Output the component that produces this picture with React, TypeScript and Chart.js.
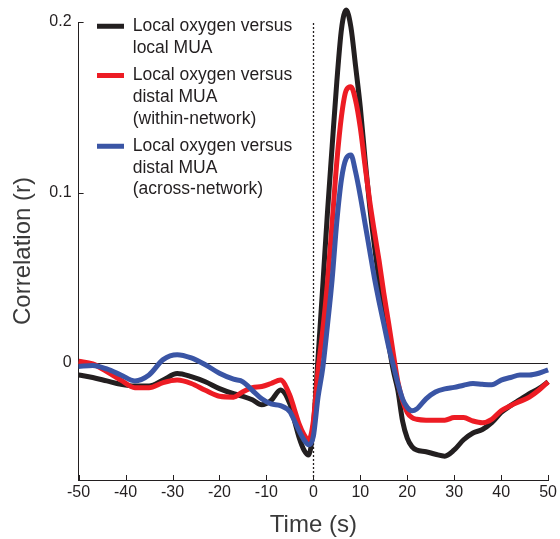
import React, { useEffect, useRef } from 'react';
import { Chart, registerables } from 'chart.js';

Chart.register(...registerables);

// ---- data ----
const TIME = [-50, -47, -44, -41, -38, -35, -32, -29, -26, -23, -20, -17, -15, -13, -11, -9, -7, -5, -4, -3, -2, -1, 0, 1, 2, 3, 4, 5, 6, 7, 8, 9, 10, 11, 12, 13, 14, 15, 16, 17, 18, 19, 20, 21, 22, 24, 26, 28, 30, 32, 34, 36, 38, 40, 42, 44, 46, 48, 50];

const LOCAL_MUA = [-0.007, -0.0085, -0.0105, -0.0125, -0.0135, -0.0135, -0.01, -0.0062, -0.008, -0.011, -0.015, -0.018, -0.0195, -0.0215, -0.0245, -0.022, -0.0158, -0.024, -0.034, -0.044, -0.051, -0.054, -0.037, 0.003, 0.045, 0.088, 0.127, 0.165, 0.196, 0.207, 0.197, 0.174, 0.15, 0.12, 0.092, 0.069, 0.048, 0.03, 0.012, -0.004, -0.016, -0.034, -0.044, -0.049, -0.051, -0.052, -0.0535, -0.0546, -0.051, -0.045, -0.041, -0.039, -0.035, -0.029, -0.025, -0.0215, -0.018, -0.015, -0.011];

const DISTAL_WITHIN = [0.001, -0.0005, -0.005, -0.01, -0.0145, -0.0145, -0.0115, -0.01, -0.012, -0.016, -0.0195, -0.02, -0.0168, -0.0145, -0.0138, -0.012, -0.01, -0.019, -0.0275, -0.036, -0.042, -0.045, -0.034, -0.004, 0.019, 0.047, 0.082, 0.118, 0.145, 0.16, 0.162, 0.154, 0.138, 0.116, 0.095, 0.077, 0.06, 0.041, 0.024, 0.006, -0.011, -0.022, -0.029, -0.032, -0.033, -0.0335, -0.0335, -0.0335, -0.032, -0.032, -0.034, -0.035, -0.033, -0.028, -0.025, -0.0225, -0.02, -0.016, -0.011];

const DISTAL_ACROSS = [-0.002, -0.0015, -0.0035, -0.007, -0.0105, -0.007, 0.002, 0.0049, 0.003, -0.001, -0.006, -0.0095, -0.011, -0.016, -0.021, -0.024, -0.025, -0.0286, -0.034, -0.04, -0.045, -0.048, -0.043, -0.02, -0.003, 0.022, 0.049, 0.083, 0.108, 0.12, 0.122, 0.112, 0.098, 0.082, 0.066, 0.05, 0.036, 0.023, 0.01, -0.001, -0.012, -0.021, -0.026, -0.028, -0.027, -0.021, -0.017, -0.0152, -0.0143, -0.013, -0.012, -0.0125, -0.0128, -0.01, -0.0085, -0.007, -0.007, -0.006, -0.004];

const SERIES_LABELS = [
  ['Local oxygen versus', 'local MUA'],
  ['Local oxygen versus', 'distal MUA', '(within-network)'],
  ['Local oxygen versus', 'distal MUA', '(across-network)'],
];
const SERIES_VALUES = [LOCAL_MUA, DISTAL_WITHIN, DISTAL_ACROSS];
const COLORS = ['#231f20', '#ed1c24', '#3a55a5'];

const X_TICKS = [-50, -40, -30, -20, -10, 0, 10, 20, 30, 40, 50];
const Y_TICKS = [0, 0.1, 0.2];
const X_TITLE = 'Time (s)';
const Y_TITLE = 'Correlation (r)';

const FONT = "'Liberation Sans', Arial, Helvetica, sans-serif";
const INK = '#231f20';

const decorPlugin = {
  id: 'decor',
  afterLayout(chart: any) {
    const lg = chart.legend;
    if (lg) {
      lg.left = 91;
      lg.top = 11.5;
      lg.bottom = chart.chartArea.bottom;
    }
  },
  beforeDatasetsDraw(chart: any) {
    const { ctx, chartArea, scales } = chart;
    const x = scales.x;
    const y = scales.y;
    ctx.save();
    ctx.strokeStyle = INK;
    ctx.lineWidth = 1;
    // zero line
    const y0 = Math.round(y.getPixelForValue(0)) + 0.5;
    ctx.beginPath();
    ctx.moveTo(chartArea.left, y0);
    ctx.lineTo(chartArea.right, y0);
    ctx.stroke();
    // dotted line at t = 0
    const x0 = Math.round(x.getPixelForValue(0)) + 0.5;
    ctx.setLineDash([2, 2]);
    ctx.lineWidth = 1.3;
    ctx.beginPath();
    ctx.moveTo(x0, chartArea.top + 1);
    ctx.lineTo(x0, chartArea.bottom);
    ctx.stroke();
    ctx.setLineDash([]);
    ctx.lineWidth = 1;
    // inward tick marks
    for (const t of x.ticks) {
      const px = Math.round(x.getPixelForValue(t.value)) + 0.5;
      ctx.beginPath();
      ctx.moveTo(px, chartArea.bottom);
      ctx.lineTo(px, chartArea.bottom - 5);
      ctx.stroke();
    }
    for (const t of y.ticks) {
      const py = Math.round(y.getPixelForValue(t.value)) + 0.5;
      ctx.beginPath();
      ctx.moveTo(chartArea.left, py);
      ctx.lineTo(chartArea.left + 5, py);
      ctx.stroke();
    }
    ctx.restore();
  },
};

export default function App() {
  const ref = useRef<HTMLCanvasElement | null>(null);

  useEffect(() => {
    if (!ref.current) return;
    const datasets = SERIES_VALUES.map((vals, i) => ({
      label: SERIES_LABELS[i].join(' '),
      data: TIME.map((t, k) => ({ x: t, y: vals[k] })),
      borderColor: COLORS[i],
      backgroundColor: COLORS[i],
      borderWidth: 5,
      pointRadius: 0,
      cubicInterpolationMode: 'monotone' as const,
      tension: 0.4,
      clip: false as any,
      order: 3 - i,
    }));

    const chart = new Chart(ref.current, {
      type: 'line',
      data: { datasets },
      plugins: [decorPlugin],
      options: {
        animation: false,
        responsive: false,
        devicePixelRatio: 1,
        layout: { padding: { left: 0, top: 22, right: 11, bottom: 0 } },
        plugins: {
          tooltip: { enabled: false },
          legend: {
            position: 'chartArea' as any,
            align: 'start',
            labels: {
              boxWidth: 27,
              boxHeight: 5,
              padding: 6,
              color: INK,
              font: { family: FONT, size: 17.5, lineHeight: 1.235 },
              generateLabels: () =>
                SERIES_LABELS.map((text, i) => ({
                  text: text as any,
                  fillStyle: COLORS[i],
                  strokeStyle: COLORS[i],
                  lineWidth: 0,
                  fontColor: INK,
                  hidden: false,
                  datasetIndex: i,
                })),
            },
          },
        },
        scales: {
          x: {
            type: 'linear',
            min: -50,
            max: 50,
            afterBuildTicks: (s: any) => {
              s.ticks = X_TICKS.map((v) => ({ value: v }));
            },
            afterFit: (s: any) => {
              s.height = 59;
            },
            grid: { display: false, drawTicks: false },
            border: { display: true, color: INK, width: 1 },
            ticks: {
              color: INK,
              padding: 3,
              font: { family: FONT, size: 16 },
              maxRotation: 0,
              callback: (v: any) => String(v),
            },
            title: {
              display: true,
              text: X_TITLE,
              color: '#3a3a3a',
              font: { family: FONT, size: 24, lineHeight: 1 },
              padding: { top: 0, bottom: 1.5 },
            },
          },
          y: {
            type: 'linear',
            min: -0.0686,
            max: 0.2,
            afterBuildTicks: (s: any) => {
              s.ticks = Y_TICKS.map((v) => ({ value: v }));
            },
            afterFit: (s: any) => {
              s.width = 78.6;
            },
            grid: { display: false, drawTicks: false },
            border: { display: true, color: INK, width: 1 },
            ticks: {
              color: INK,
              padding: 7,
              font: { family: FONT, size: 16 },
              callback: (v: any) => (Number(v) === 0 ? '0' : Number(v).toFixed(1)),
            },
            title: {
              display: true,
              text: Y_TITLE,
              color: '#3a3a3a',
              font: { family: FONT, size: 24, lineHeight: 1 },
              padding: { top: 11, bottom: 0 },
            },
          },
        },
      },
    });
    return () => chart.destroy();
  }, []);

  return (
    <div style={{ position: 'absolute', left: 0, top: 0, width: 560, height: 539, background: '#fff' }}>
      <canvas ref={ref} width={560} height={539} style={{ display: 'block', width: 560, height: 539 }} />
    </div>
  );
}
